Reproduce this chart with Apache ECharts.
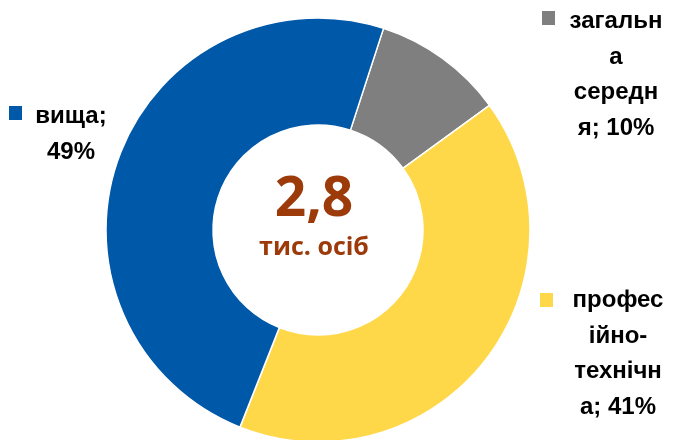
<!DOCTYPE html>
<html lang="uk">
<head>
  <meta charset="UTF-8">
  <script src="https://cdn.jsdelivr.net/npm/echarts@6.0.0/dist/echarts.min.js"></script>
</head>
<body style="margin:0;background:#fff;">
  <div id="main" style="width:675px;height:440px;"></div>
  <script type="text/javascript">
    // категорії освіти (порядок за годинниковою стрілкою від сірого сектора)
    const categories = ['загальна середня', 'професійно-технічна', 'вища'];
    const shares = [10, 41, 49];
    const colors = ['#7f7f7f', '#ffd84a', '#0058a8'];
    // розбиття підписів на рядки, як на оригіналі
    const labelHeads = ['загальн\nа\nсередн\nя;', 'профес\nійно-\nтехнічн\nа;', 'вища;'];
    const labelJoin = [' ', ' ', '\n'];
    const totalText = '2,8';
    const totalUnit = 'тис. осіб';

    // позиції підписів: [x квадратика, y квадратика, x центру тексту, y верху тексту]
    const labelPos = [
      [542, 11, 616, 4],
      [540, 293, 618, 283],
      [9, 106, 71, 99]
    ];

    const graphic = [];
    categories.forEach(function (c, i) {
      const p = labelPos[i];
      graphic.push({
        type: 'rect',
        shape: { x: p[0], y: p[1], width: 13, height: 14 },
        style: { fill: colors[i] }
      });
      graphic.push({
        type: 'text',
        x: p[2], y: p[3],
        style: {
          text: labelHeads[i] + labelJoin[i] + shares[i] + '%',
          fill: '#000',
          font: 'bold 24px "Liberation Sans", Arial, sans-serif',
          align: 'center',
          verticalAlign: 'top',
          lineHeight: 35.5
        }
      });
    });
    graphic.push({
      type: 'text', x: 314, y: 200,
      style: {
        text: totalText, fill: '#9c3a0a',
        font: 'bold 55px "Open Sans", "Noto Sans", sans-serif',
        align: 'center', verticalAlign: 'middle'
      }
    });
    graphic.push({
      type: 'text', x: 314, y: 248,
      style: {
        text: totalUnit, fill: '#9c3a0a',
        font: 'bold 25px "Open Sans", "Noto Sans", sans-serif',
        align: 'center', verticalAlign: 'middle'
      }
    });

    const chart = echarts.init(document.getElementById('main'));
    chart.setOption({
      animation: false,
      graphic: graphic,
      series: [{
        type: 'pie',
        center: [318, 230],
        radius: [105, 212],
        startAngle: 72,
        clockwise: true,
        label: { show: false },
        labelLine: { show: false },
        itemStyle: { borderColor: '#fff', borderWidth: 1.5 },
        data: categories.map(function (c, i) {
          return { name: c, value: shares[i], itemStyle: { color: colors[i] } };
        })
      }]
    });
  </script>
</body>
</html>
